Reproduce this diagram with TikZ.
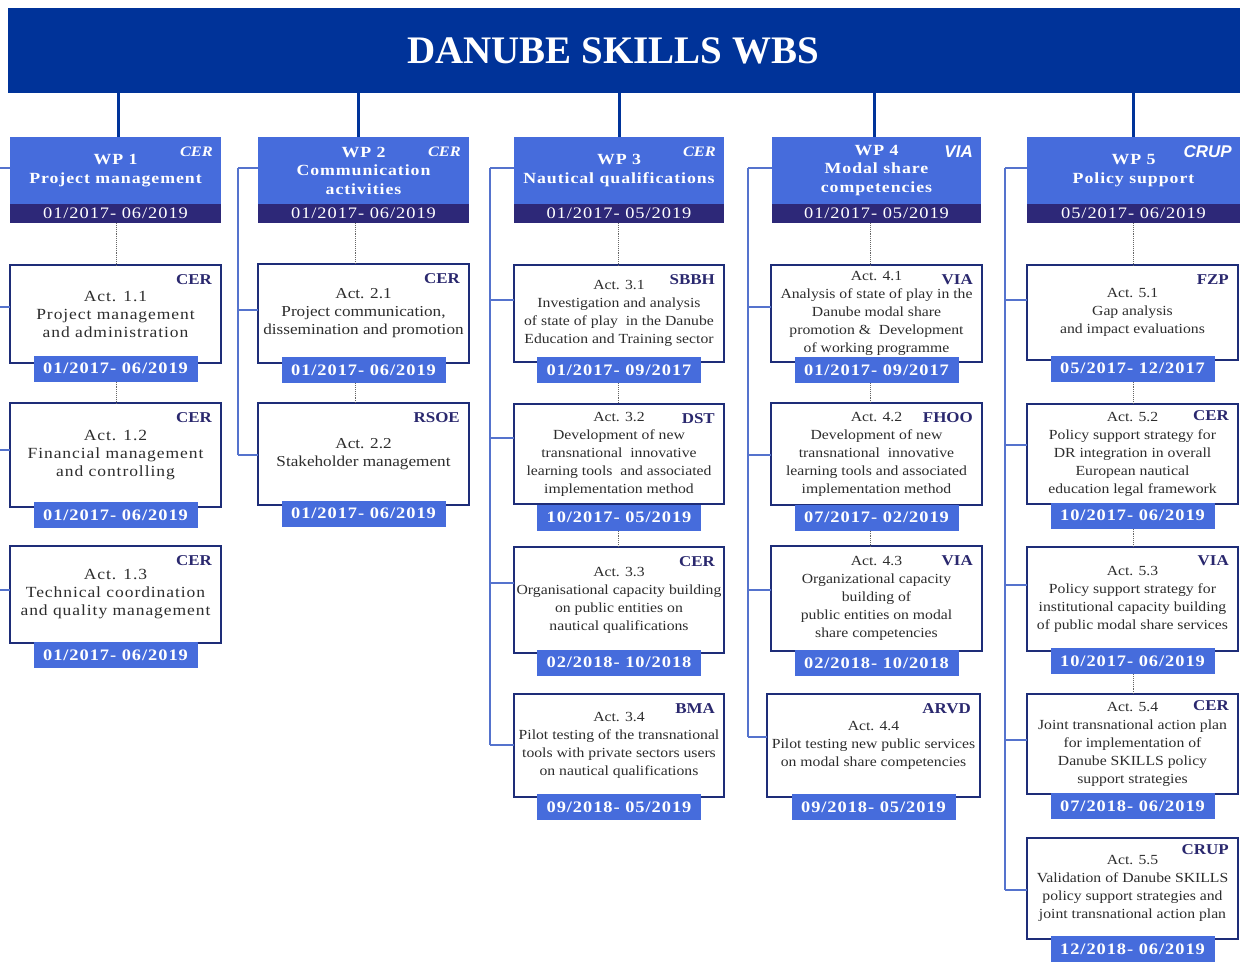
\documentclass[tikz,border=0pt]{standalone}
\usepackage{fontspec}
\setmainfont{Liberation Serif}[FakeStretch=1.13]
\setsansfont{Liberation Sans}
\newfontfamily\titlefont{Liberation Serif}
\newfontfamily\widefont{Liberation Serif}[FakeStretch=1.15,LetterSpace=6]
\newfontfamily\spacedfont{Liberation Serif}[FakeStretch=1.13,LetterSpace=6]
\definecolor{titleblue}{RGB}{0,51,153}
\definecolor{wpblue}{RGB}{70,108,220}
\definecolor{wpdark}{RGB}{45,40,120}
\definecolor{actnavy}{RGB}{30,45,120}
\definecolor{partnernavy}{RGB}{42,40,110}
\definecolor{bodygray}{RGB}{45,45,45}
\definecolor{busblue}{RGB}{85,115,205}
\tikzset{
  titletext/.style={text=white, inner sep=0, font=\titlefont\bfseries\fontsize{39}{40}\selectfont},
  wpbox/.style={fill=wpblue, inner sep=0, outer sep=0, minimum height=86},
  wpband/.style={fill=wpdark, inner sep=0, outer sep=0, minimum height=19, text=white,
    font=\widefont\fontsize{16}{18}\selectfont},
  wptext/.style={text=white, align=center, inner sep=0, font=\widefont\bfseries\fontsize{15.5}{18.5}\selectfont},
  actbox/.style={draw=actnavy, line width=2.6pt, fill=white, inner sep=0, outer sep=0},
  acttext/.style={text=bodygray, align=center, inner sep=0, font=\fontsize{13.9}{18}\selectfont},
  partner/.style={text=partnernavy, inner sep=0, font=\bfseries\fontsize{15}{18}\selectfont},
  badge/.style={fill=wpblue, text=white, inner sep=0, minimum width=164, minimum height=26,
    font=\widefont\bfseries\fontsize{16}{18}\selectfont},
  trunk/.style={draw=titleblue, line width=3pt},
  dots/.style={draw=black!60, line width=0.9pt, densely dotted},
  bus/.style={draw=busblue, line width=1.2pt}
}
\newcommand\mkwp[6]{%
  \node[wpbox, minimum width={#3-#2}, anchor=north west] (#1) at (#2,137) {};
  \node[wpband, minimum width={#3-#2}, anchor=south west] (#1d) at (#1.south west) {#6};
  \node[wptext] (#1t) at ([yshift=-33.5pt]#1.north) {#4};
  \node[anchor=east, text=white, inner sep=0] (#1p) at ([xshift=-8pt,yshift=-15pt]#1.north east) {#5};
}
\newcommand\mkact[9]{%
  \node[actbox, minimum width={#3-#2}, minimum height={#5-#4}, anchor=north west] (#1) at (#2,#4) {};
  \node[acttext] (#1t) at (#1.center) {#6};
  \node[partner, anchor=east] (#1p) at ([xshift=-9pt,yshift=-\partnerdrop]#1.north east) {#7};
  \coordinate (#1y) at (0,#9);
  \node[badge] (#1b) at (#1.center |- #1y) {#8};
}
\newcommand\partnerdrop{15pt}
\newcommand\hpc[1]{{\bfseries\itshape\fontsize{14.5}{16}\selectfont #1}}
\newcommand\hps[1]{{\sffamily\bfseries\itshape\fontsize{17}{18}\selectfont #1}}
\begin{document}
\begin{tikzpicture}[x=1pt,y=-1pt]
\useasboundingbox (0,0) rectangle (1240,963);
% title
\node[fill=titleblue, minimum width=1232, minimum height=85, anchor=north west, inner sep=0, outer sep=0] (title) at (8,8) {};
\node[titletext] (titlet) at (613,51) {DANUBE SKILLS WBS};
% work packages
\mkwp{wp1}{10}{221}{WP 1\\Project management}{\hpc{CER}}{01/2017- 06/2019}
\mkwp{wp2}{258}{469}{WP 2\\Communication\\activities}{\hpc{CER}}{01/2017- 06/2019}
\mkwp{wp3}{514}{724}{WP 3\\Nautical qualifications}{\hpc{CER}}{01/2017- 05/2019}
\mkwp{wp4}{772}{981}{WP 4\\Modal share\\competencies}{\hps{VIA}}{01/2017- 05/2019}
\mkwp{wp5}{1027}{1240}{WP 5\\Policy support}{\hps{CRUP}}{05/2017- 06/2019}
% activities WP1
\begin{scope}[acttext/.append style={font=\spacedfont\fontsize{15.5}{18}\selectfont}]
\mkact{a11}{10}{221}{265}{363}{Act. 1.1\\Project management\\and administration}{CER}{01/2017- 06/2019}{368.5}
\mkact{a12}{10}{221}{403}{507}{Act. 1.2\\Financial management\\and controlling}{CER}{01/2017- 06/2019}{515}
\mkact{a13}{10}{221}{546}{643}{Act. 1.3\\Technical coordination\\and quality management}{CER}{01/2017- 06/2019}{655}
\end{scope}
% WP2
\begin{scope}[acttext/.append style={font=\fontsize{15.2}{18}\selectfont}]
\mkact{a21}{258}{469}{264}{363}{Act. 2.1\\Project communication,\\dissemination and promotion}{CER}{01/2017- 06/2019}{370}
\mkact{a22}{258}{469}{403}{505}{Act. 2.2\\Stakeholder management}{RSOE}{01/2017- 06/2019}{513.5}
\end{scope}
% WP3
\mkact{a31}{514}{724}{265}{362}{Act. 3.1\\Investigation and analysis\\of state of play \ in the Danube\\Education and Training sector}{SBBH}{01/2017- 09/2017}{370}
\mkact{a32}{514}{724}{404}{504}{Act. 3.2\\Development of new\\transnational \ innovative\\learning tools \ and associated\\implementation method}{DST}{10/2017- 05/2019}{517.5}
\mkact{a33}{514}{724}{547}{653}{Act. 3.3\\Organisational capacity building\\on public entities on\\nautical qualifications}{CER}{02/2018- 10/2018}{662.5}
\mkact{a34}{514}{724}{694}{797}{Act. 3.4\\Pilot testing of the transnational\\tools with private sectors users\\on nautical qualifications}{BMA}{09/2018- 05/2019}{807}
% WP4
\mkact{a41}{771}{982}{265}{362}{Act. 4.1\\Analysis of state of play in the\\Danube modal share\\promotion \& \ Development\\of working programme}{VIA}{01/2017- 09/2017}{370}
\mkact{a42}{771}{982}{403}{505}{Act. 4.2\\Development of new\\transnational \ innovative\\learning tools and associated\\implementation method}{FHOO}{07/2017- 02/2019}{517.5}
\mkact{a43}{771}{982}{546}{651}{Act. 4.3\\Organizational capacity\\building of\\public entities on modal\\share competencies}{VIA}{02/2018- 10/2018}{663}
\mkact{a44}{767}{980}{694}{797}{Act. 4.4\\Pilot testing new public services\\on modal share competencies}{ARVD}{09/2018- 05/2019}{807}
% WP5
\mkact{a51}{1027}{1238}{265}{360}{Act. 5.1\\Gap analysis\\and impact evaluations}{FZP}{05/2017- 12/2017}{368.5}
\renewcommand\partnerdrop{12pt}
\mkact{a52}{1027}{1238}{404}{504}{Act. 5.2\\Policy support strategy for\\DR integration in overall\\European nautical\\education legal framework}{CER}{10/2017- 06/2019}{515.5}
\renewcommand\partnerdrop{14pt}
\mkact{a53}{1027}{1238}{547}{651}{Act. 5.3\\Policy support strategy for\\institutional capacity building\\of public modal share services}{VIA}{10/2017- 06/2019}{661}
\renewcommand\partnerdrop{12pt}
\mkact{a54}{1027}{1238}{694}{794}{Act. 5.4\\Joint transnational action plan\\for implementation of\\Danube SKILLS policy\\support strategies}{CER}{07/2018- 06/2019}{806}
\mkact{a55}{1027}{1238}{838}{939}{Act. 5.5\\Validation of Danube SKILLS\\policy support strategies and\\joint transnational action plan}{CRUP}{12/2018- 06/2019}{949}
% trunk connectors
\coordinate (t1) at ([xshift=2.5pt]wp1.north);
\coordinate (t2) at ([xshift=-5.5pt]wp2.north);
\coordinate (t3) at (wp3.north);
\coordinate (t4) at ([xshift=-2.5pt]wp4.north);
\coordinate (t5) at ([xshift=-0.5pt]wp5.north);
\foreach \t in {t1,t2,t3,t4,t5} { \draw[trunk] (\t) -- (\t |- title.south); }
% dotted connectors
\coordinate (d1) at ([xshift=0.5pt]wp1d.south);
\coordinate (d2) at ([xshift=-8.5pt]wp2d.south);
\coordinate (d3) at ([xshift=-1pt]wp3d.south);
\coordinate (d4) at ([xshift=-6.5pt]wp4d.south);
\coordinate (d5) at ([xshift=-0.5pt]wp5d.south);
\draw[dots] (d1) -- (d1 |- a11.north);
\draw[dots] (d1 |- a11b.south) -- (d1 |- a12.north);
\draw[dots] (d2) -- (d2 |- a21.north);
\draw[dots] (d2 |- a21b.south) -- (d2 |- a22.north);
\draw[dots] (d3) -- (d3 |- a31.north);
\draw[dots] (d3 |- a31b.south) -- (d3 |- a32.north);
\draw[dots] (d3 |- a32b.south) -- (d3 |- a33.north);
\draw[dots] (d4) -- (d4 |- a41.north);
\draw[dots] (d4 |- a41b.south) -- (d4 |- a42.north);
\draw[dots] (d4 |- a42b.south) -- (d4 |- a43.north);
\draw[dots] (d5) -- (d5 |- a51.north);
\draw[dots] (d5 |- a51b.south) -- (d5 |- a52.north);
\draw[dots] (d5 |- a52b.south) -- (d5 |- a53.north);
\draw[dots] (d5 |- a53b.south) -- (d5 |- a54.north);
% left bus lines
\coordinate (bus1) at (0,168);
\coordinate (bus2) at (238,168);
\coordinate (bus3) at (490,168);
\coordinate (bus4) at (748,168);
\coordinate (bus5) at (1005,168);
% WP1
\coordinate (s1a) at ([yshift=12pt]wp1.west);
\coordinate (s1b) at ([yshift=7pt]a11.west);
\coordinate (s1c) at ([yshift=5pt]a12.west);
\coordinate (s1d) at ([yshift=4.5pt]a13.west);
\foreach \s in {s1a,s1b,s1c,s1d} { \draw[bus] (\s) -- (\s -| bus1); }
% WP2
\coordinate (s2a) at ([yshift=12pt]wp2.west);
\coordinate (s2b) at ([yshift=3.5pt]a21.west);
\coordinate (s2c) at ([yshift=-1pt]a22.west);
\foreach \s in {s2a,s2b,s2c} { \draw[bus] (\s) -- (\s -| bus2); }
\draw[bus] (s2a -| bus2) -- (s2c -| bus2);
% WP3
\coordinate (s3a) at ([yshift=12pt]wp3.west);
\coordinate (s3b) at ([yshift=13.5pt]a31.west);
\coordinate (s3c) at ([yshift=16pt]a32.west);
\coordinate (s3d) at ([yshift=17pt]a33.west);
\coordinate (s3e) at ([yshift=0.5pt]a34.west);
\foreach \s in {s3a,s3b,s3c,s3d,s3e} { \draw[bus] (\s) -- (\s -| bus3); }
\draw[bus] (s3a -| bus3) -- (s3e -| bus3);
% WP4
\coordinate (s4a) at ([yshift=12pt]wp4.west);
\coordinate (s4b) at ([yshift=6.5pt]a41.west);
\coordinate (s4c) at ([yshift=-1pt]a42.west);
\coordinate (s4d) at ([yshift=8.5pt]a43.west);
\coordinate (s4e) at ([yshift=8.5pt]a44.west);
\foreach \s in {s4a,s4b,s4c,s4d,s4e} { \draw[bus] (\s) -- (\s -| bus4); }
\draw[bus] (s4a -| bus4) -- (s4e -| bus4);
% WP5
\coordinate (s5a) at ([yshift=12pt]wp5.west);
\coordinate (s5b) at ([yshift=12.5pt]a51.west);
\coordinate (s5c) at ([yshift=9pt]a52.west);
\coordinate (s5d) at ([yshift=14pt]a53.west);
\coordinate (s5e) at ([yshift=4pt]a54.west);
\coordinate (s5f) at ([yshift=-1.5pt]a55.west);
\foreach \s in {s5a,s5b,s5c,s5d,s5e,s5f} { \draw[bus] (\s) -- (\s -| bus5); }
\draw[bus] (s5a -| bus5) -- (s5f -| bus5);
\end{tikzpicture}
\end{document}
